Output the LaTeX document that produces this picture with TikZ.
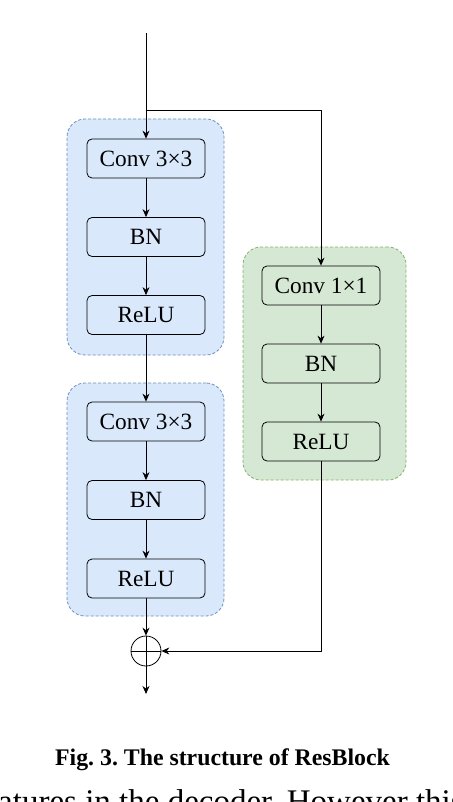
\documentclass[tikz,border=0pt]{standalone}
\usepackage{fontspec}
\setmainfont{Liberation Serif}
\usetikzlibrary{arrows.meta}
\definecolor{bluefill}{HTML}{DAE8FC}
\definecolor{blueline}{HTML}{6C8EBF}
\definecolor{greenfill}{HTML}{D5E8D4}
\definecolor{greenline}{HTML}{82B366}
\frenchspacing
\begin{document}
\begin{tikzpicture}[x=1pt,y=-1pt,
  layer/.style={draw, rounded corners=5pt, minimum width=118pt, minimum height=39pt,
    inner sep=0pt, line width=0.8pt, font=\fontsize{23.3}{27}\selectfont},
  group/.style={dashed, dash pattern=on 3pt off 2pt, rounded corners=18pt, line width=0.8pt,
    inner sep=0pt},
  bluegroup/.style={group, draw=blueline, fill=bluefill},
  greengroup/.style={group, draw=greenline, fill=greenfill},
  conn/.style={line width=0.8pt, -{Stealth[length=8pt,width=7pt]}},
  plain/.style={line width=0.8pt}]
\useasboundingbox (0,0) rectangle (452,802);
\fill[white] (0,0) rectangle (452,802);
% containers
\node[bluegroup, minimum width=157pt, minimum height=236pt] (grp1) at (145.5,237) {};
\node[bluegroup, minimum width=157pt, minimum height=233pt] (grp2) at (145.5,499.5) {};
\node[greengroup, minimum width=163pt, minimum height=233pt] (grp3) at (324.5,363.5) {};
% layers
\node[layer] (c1) at (146,158.5) {Conv 3×3};
\node[layer] (b1) at (146,237) {BN};
\node[layer] (r1) at (146,315) {ReLU};
\node[layer] (c2) at (146,421.5) {Conv 3×3};
\node[layer] (b2) at (146,500) {BN};
\node[layer] (r2) at (146,578.5) {ReLU};
\node[layer] (g1) at (321,285.5) {Conv 1×1};
\node[layer] (gb) at (321,363.5) {BN};
\node[layer] (gr) at (321,441.5) {ReLU};
\node[circle, draw, minimum size=30pt, inner sep=0pt, line width=0.8pt] (sum) at (146,651) {};
\draw[plain] (sum.north) -- (sum.south) (sum.west) -- (sum.east);
\coordinate (in) at (146,33);
\coordinate (split) at (146,110);
\coordinate (out) at (146,694);
% connectors
\draw[conn] (in) -- (c1);
\draw[conn] (split) -| (g1);
\draw[conn] (c1) -- (b1);
\draw[conn] (b1) -- (r1);
\draw[conn] (r1) -- (c2);
\draw[conn] (c2) -- (b2);
\draw[conn] (b2) -- (r2);
\draw[conn] (r2) -- (sum);
\draw[conn] (g1) -- (gb);
\draw[conn] (gb) -- (gr);
\draw[conn] (gr) |- (sum);
\draw[conn] (sum) -- (out);
% caption
\node[font=\bfseries\fontsize{23.8}{28}\selectfont, anchor=base, inner sep=0pt] (cap) at (222.5,765) {Fig. 3. The structure of ResBlock};
\begin{scope}
\clip (0,0) rectangle (452,802);
\node[anchor=base west, inner sep=0pt, font=\fontsize{33}{40}\selectfont] (body) at (-2,812) {atures in the decoder. However this};
\end{scope}
\end{tikzpicture}
\end{document}
